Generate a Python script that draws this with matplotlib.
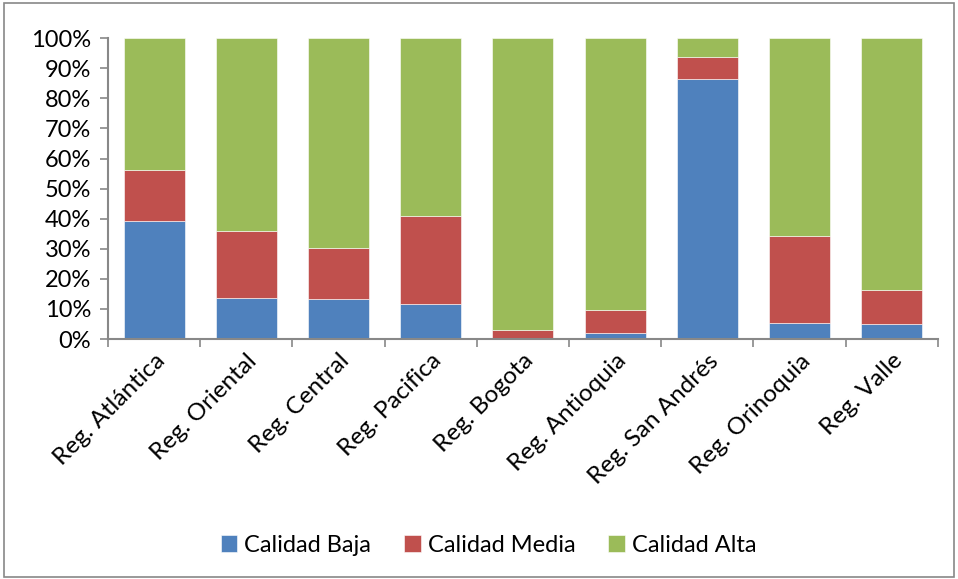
import matplotlib
matplotlib.use("Agg")
import matplotlib.pyplot as plt
from matplotlib.patches import Rectangle
import numpy as np

categories = ["Reg. Atlántica", "Reg. Oriental", "Reg. Central", "Reg. Pacifica",
              "Reg. Bogota", "Reg. Antioquia", "Reg. San Andrés", "Reg. Orinoquia", "Reg. Valle"]
baja = [39.2, 13.7, 13.3, 11.5, 0.3, 1.9, 86.6, 5.2, 4.9]
media = [17.0, 22.1, 16.9, 29.5, 2.8, 7.6, 7.2, 29.0, 11.5]
alta = [100 - b - m for b, m in zip(baja, media)]
series_names = ["Calidad Baja", "Calidad Media", "Calidad Alta"]
colors = ["#4F81BD", "#C0504D", "#9BBB59"]

plt.rcParams['font.family'] = ['Lato', 'DejaVu Sans']

fig = plt.figure(figsize=(9.58, 5.79), dpi=100)
ax = fig.add_axes([0.1127, 0.4145, 0.979 - 0.1127, 0.934 - 0.4145])

x = np.arange(len(categories))
bottom = np.zeros(len(categories))
for vals, name, c in zip([baja, media, alta], series_names, colors):
    ax.bar(x, vals, width=0.66, bottom=bottom, color=c, label=name,
           edgecolor='white', linewidth=0.4)
    bottom += np.array(vals)

ax.set_xlim(-0.5, len(categories) - 0.5)
ax.set_ylim(0, 100)
ax.set_yticks(np.arange(0, 101, 10))
ax.set_yticklabels([f"{v}%" for v in range(0, 101, 10)], fontsize=17)
ax.set_xticks(x)
ax.set_xticklabels(categories, rotation=45, ha='right', rotation_mode='anchor', fontsize=17.5)
ax.tick_params(axis='x', length=0, pad=8)
ax.set_xticks(np.arange(-0.5, len(categories), 1), minor=True)
ax.tick_params(axis='x', which='minor', length=6, color='#888888', width=1.2)
ax.tick_params(axis='y', length=6, color='#888888', width=1.2, pad=6)
for s in ['top', 'right']:
    ax.spines[s].set_visible(False)
for s in ['left', 'bottom']:
    ax.spines[s].set_color('#888888')
    ax.spines[s].set_linewidth(1.5)

leg = fig.legend(loc='center', bbox_to_anchor=(0.51, 0.058), ncol=3, frameon=False,
                 fontsize=17, handlelength=0.7, handleheight=0.7, handletextpad=0.3,
                 columnspacing=1.4)

fig.patches.append(Rectangle((0.004, 0.004), 0.992, 0.99, transform=fig.transFigure,
                             fill=False, edgecolor='#888888', linewidth=1.2))

fig.savefig("out.png", dpi=100)
